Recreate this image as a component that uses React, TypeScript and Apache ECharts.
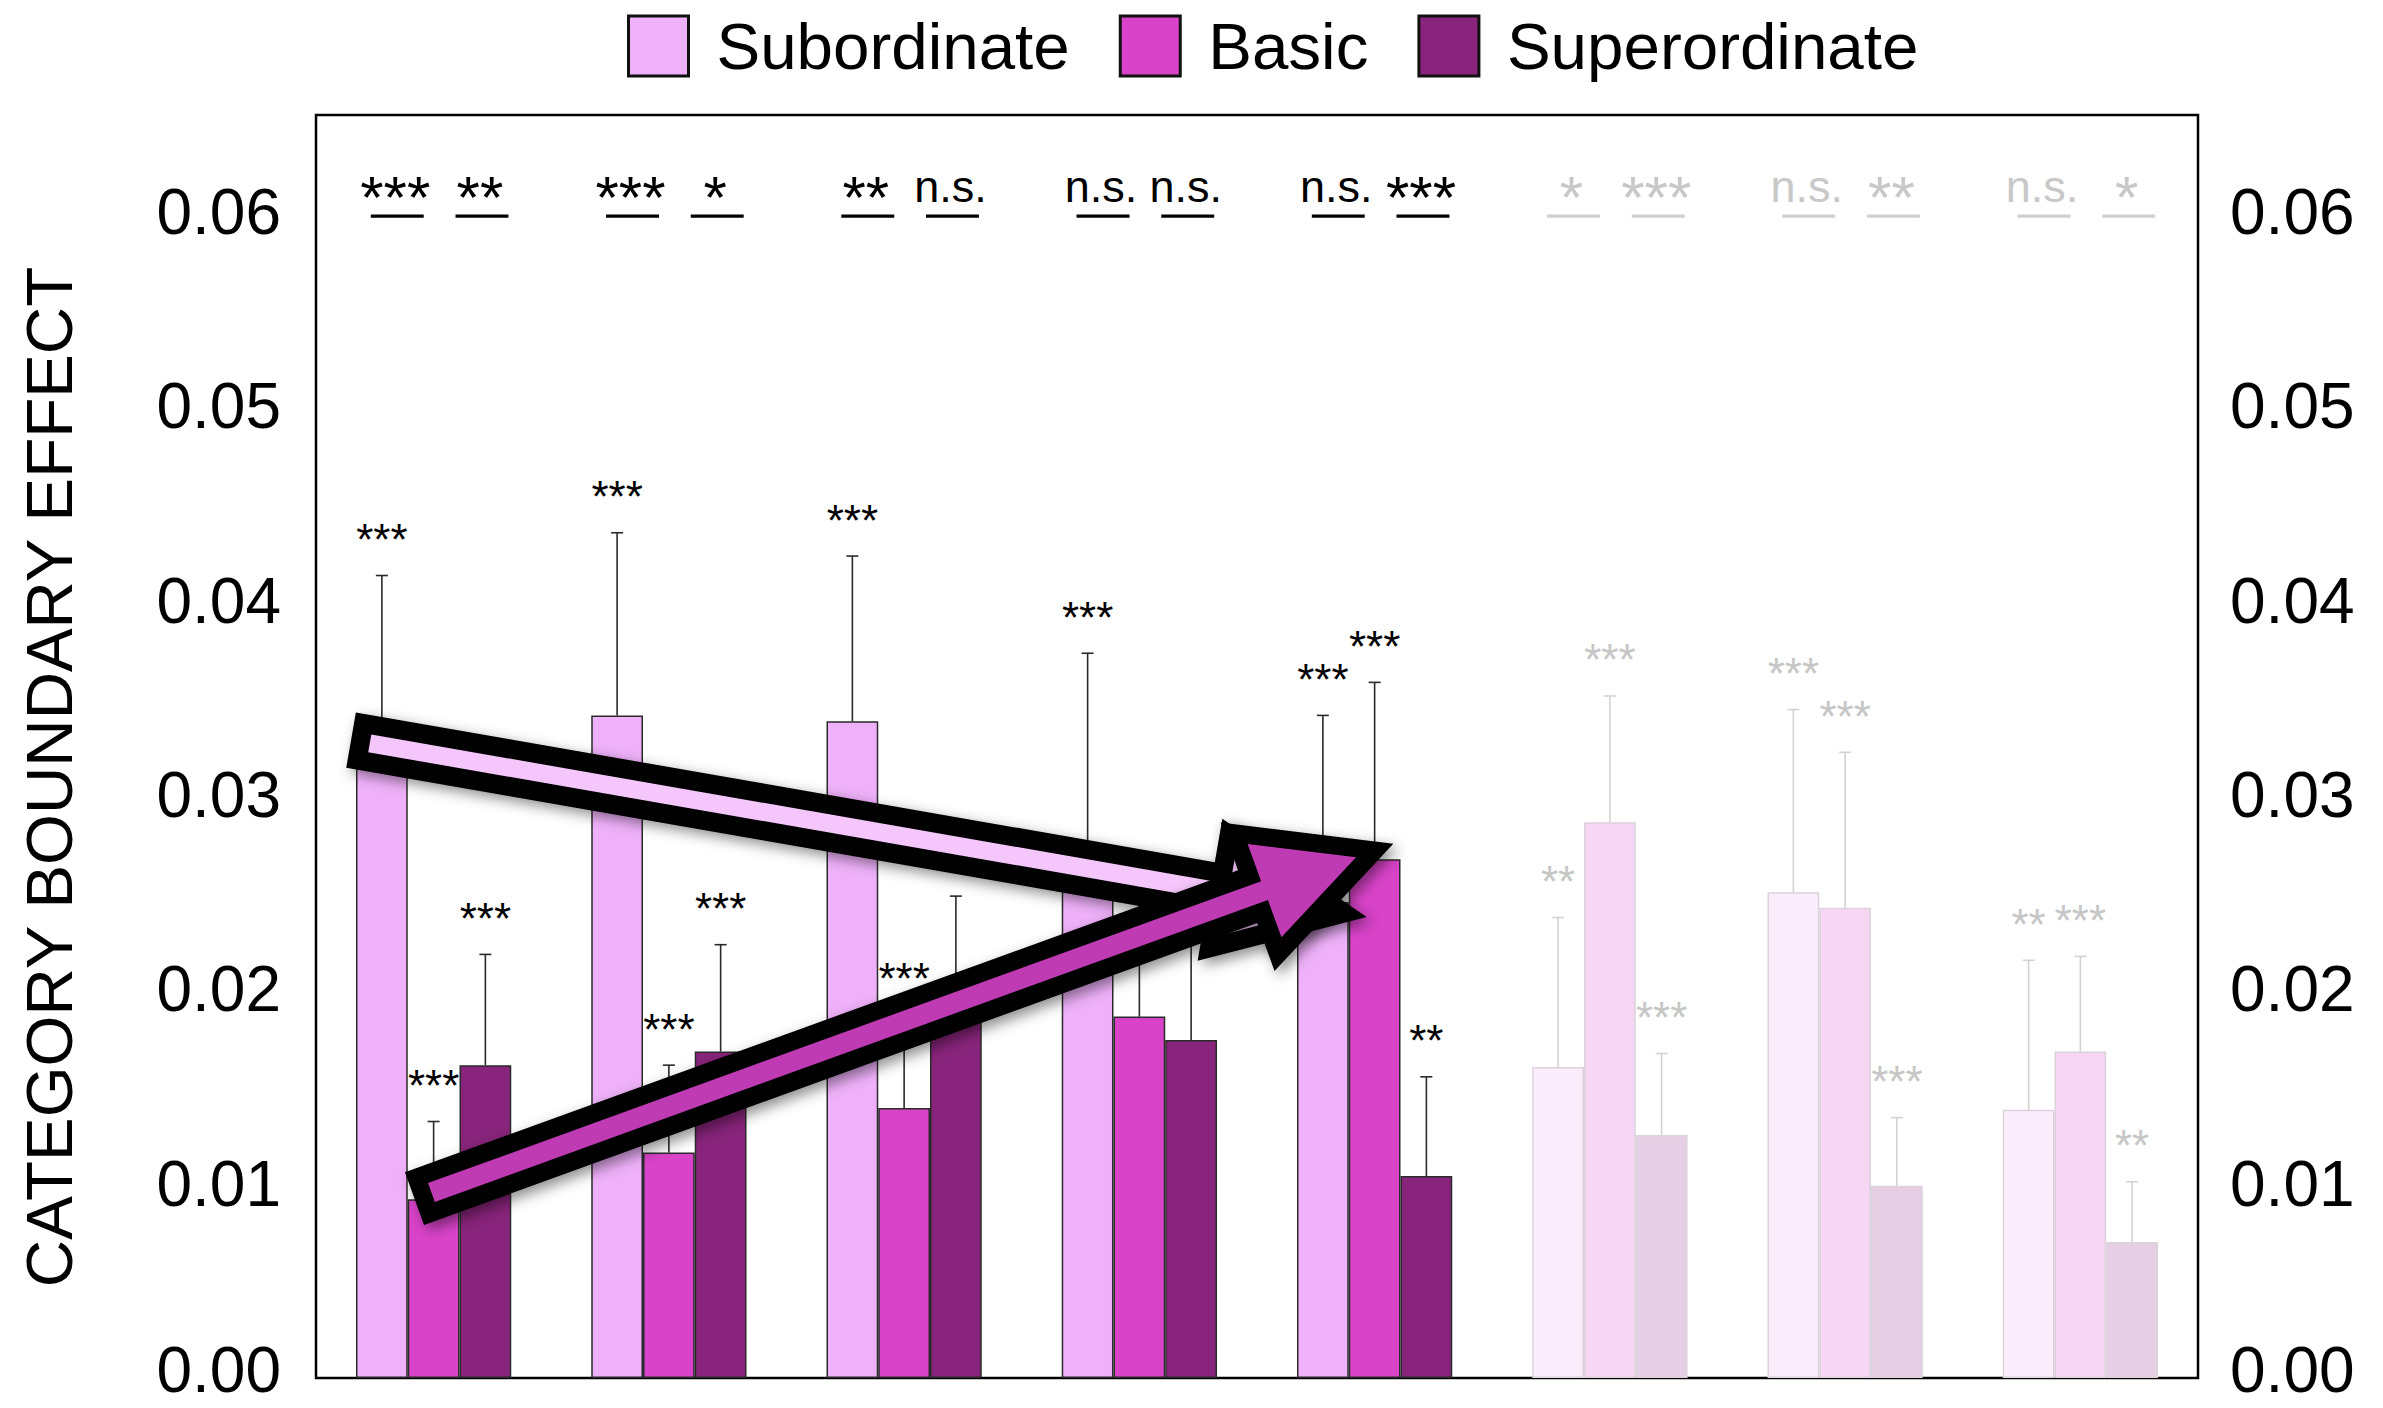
import React, { useEffect, useRef } from 'react';
import * as echarts from 'echarts';

// ---------- data ----------
const categories = ['1', '2', '3', '4', '5', '6', '7', '8'];
const seriesNames = ['Subordinate', 'Basic', 'Superordinate'];

const subordinate = [0.0320, 0.0341, 0.0338, 0.0265, 0.0245, 0.0160, 0.0250, 0.0138];
const basic = [0.0092, 0.0116, 0.0139, 0.0186, 0.0267, 0.0286, 0.0242, 0.0168];
const superordinate = [0.0161, 0.0168, 0.0188, 0.0174, 0.0104, 0.0125, 0.0099, 0.0070];

const subordinateErrTop = [0.0413, 0.0435, 0.0423, 0.0373, 0.0341, 0.0237, 0.0344, 0.0215];
const basicErrTop = [0.0132, 0.0161, 0.0187, 0.0265, 0.0358, 0.0351, 0.0322, 0.0217];
const superordinateErrTop = [0.0218, 0.0223, 0.0248, 0.0235, 0.0155, 0.0167, 0.0134, 0.0101];

const subordinateStars = ['***', '***', '***', '***', '***', '**', '***', '**'];
const basicStars = ['***', '***', '***', '', '***', '***', '***', '***'];
const superordinateStars = ['***', '***', '', '', '**', '***', '***', '**'];

// pairwise comparison labels shown above each group
const pairLeftLabels = ['***', '***', '**', 'n.s.', 'n.s.', '*', 'n.s.', 'n.s.'];
const pairRightLabels = ['**', '*', 'n.s.', 'n.s.', '***', '***', '**', '*'];
const pairLineValue = 0.0598;

const fadedGroups = [false, false, false, false, false, true, true, true];

// trend arrows: [category position (fractional), value]
const arrowSubStart = [-0.351, 0.03283];
const arrowSubEnd = [3.966, 0.02372];
const arrowBasicStart = [-0.0813, 0.00923];
const arrowBasicEnd = [4.0795, 0.02749];

const yMin = 0;
const yMax = 0.065;
const yInterval = 0.01;

// ---------- styles ----------
const FONT = '"Liberation Sans", Arial, Helvetica, sans-serif';
const colors = ['#EFB1FA', '#D943C9', '#88247B'];
const fadedColors = ['#FCEDFD', '#F7D6F3', '#E6CFE4'];
const BAR_CAT_GAP = 0.34;

export default function App() {
  const ref = useRef<HTMLDivElement>(null);

  useEffect(() => {
    if (!ref.current) return;
    const chart = echarts.init(ref.current, null, { renderer: 'svg' });

    const values = [subordinate, basic, superordinate];
    const tops = [subordinateErrTop, basicErrTop, superordinateErrTop];
    const stars = [subordinateStars, basicStars, superordinateStars];

    const barSeries = values.map((vals, k) => ({
      type: 'bar',
      name: seriesNames[k],
      barGap: '0%',
      barCategoryGap: BAR_CAT_GAP * 100 + '%',
      z: 2,
      itemStyle: { color: colors[k], borderColor: '#2a2a2a', borderWidth: 1.5 },
      data: vals.map((v, i) =>
        fadedGroups[i]
          ? { value: v, itemStyle: { color: fadedColors[k], borderColor: '#dcd2dc', borderWidth: 1.5 } }
          : v
      ),
    }));

    const errSeries = values.map((vals, k) => ({
      type: 'custom',
      name: seriesNames[k] + ' error',
      z: 3,
      silent: true,
      clip: false,
      encode: { x: 0, y: [1, 2] },
      data: vals.map((v, i) => [i, v, tops[k][i]]),
      renderItem: (params: any, api: any) => {
        const i = params.dataIndex;
        const band = api.size([1, 0])[0];
        const barW = (band * (1 - BAR_CAT_GAP)) / 3;
        const base = api.coord([api.value(0), api.value(1)]);
        const top = api.coord([api.value(0), api.value(2)]);
        const x = base[0] + (k - 1) * barW;
        const col = fadedGroups[i] ? '#d2d2d2' : '#2a2a2a';
        const children: any[] = [
          { type: 'line', shape: { x1: x, y1: base[1], x2: x, y2: top[1] }, style: { stroke: col, lineWidth: 1.6 } },
          { type: 'line', shape: { x1: x - 6, y1: top[1], x2: x + 6, y2: top[1] }, style: { stroke: col, lineWidth: 1.6 } },
        ];
        const s = stars[k][i];
        if (s) {
          children.push({
            type: 'text',
            style: {
              text: s,
              x,
              y: top[1] - 36,
              align: 'center',
              verticalAlign: 'middle',
              fill: fadedGroups[i] ? '#c6c6c6' : '#000',
              font: `44px ${FONT}`,
            },
          });
        }
        return { type: 'group', children };
      },
    }));

    const pairSeries = {
      type: 'custom',
      name: 'pairs',
      z: 4,
      silent: true,
      clip: false,
      encode: { x: 0, y: 1 },
      data: categories.map((c, i) => [i, pairLineValue]),
      renderItem: (params: any, api: any) => {
        const i = params.dataIndex;
        const band = api.size([1, 0])[0];
        const p = api.coord([api.value(0), api.value(1)]);
        const half = band * 0.1125;
        const col = fadedGroups[i] ? '#d0d0d0' : '#000';
        const txtCol = fadedGroups[i] ? '#c8c8c8' : '#000';
        const children: any[] = [];
        [pairLeftLabels[i], pairRightLabels[i]].forEach((lab, j) => {
          const cx = p[0] + (j === 0 ? -1 : 1) * band * 0.18;
          children.push({
            type: 'line',
            shape: { x1: cx - half + 6, y1: p[1], x2: cx + half + 6, y2: p[1] },
            style: { stroke: col, lineWidth: 3.2 },
          });
          const isStar = lab.indexOf('*') >= 0;
          children.push({
            type: 'text',
            style: {
              text: lab,
              x: cx + 4,
              y: isStar ? p[1] - 19 : p[1] - 30,
              align: 'center',
              verticalAlign: 'middle',
              fill: txtCol,
              font: `${isStar ? 60 : 45}px ${FONT}`,
            },
          });
        });
        return { type: 'group', children };
      },
    };

    const arrowShape = (
      S: number[],
      T: number[],
      w: number,
      hl: number,
      hw: number,
      b: number,
      fill: string
    ) => {
      const dx = T[0] - S[0];
      const dy = T[1] - S[1];
      const L = Math.hypot(dx, dy);
      const d = [dx / L, dy / L];
      const n = [-d[1], d[0]];
      const pt = (P: number[], a: number, c: number) => [P[0] + d[0] * a + n[0] * c, P[1] + d[1] * a + n[1] * c];
      const B = pt(T, -hl, 0);
      const outer = [pt(S, 0, w), pt(B, 0, w), pt(B, 0, hw), T, pt(B, 0, -hw), pt(B, 0, -w), pt(S, 0, -w)];
      const alpha = Math.atan(hw / hl);
      const Ti = pt(T, -b / Math.sin(alpha), 0);
      const Bi = pt(B, b, 0);
      const Si = pt(S, b, 0);
      const ih = Math.hypot(Ti[0] - Bi[0], Ti[1] - Bi[1]);
      const hwi = (ih * hw) / hl;
      const wi = w - b;
      const inner = [pt(Si, 0, wi), pt(Bi, 0, wi), pt(Bi, 0, hwi), Ti, pt(Bi, 0, -hwi), pt(Bi, 0, -wi), pt(Si, 0, -wi)];
      return [
        {
          type: 'polygon',
          shape: { points: outer },
          style: {
            fill: '#000',
            shadowBlur: 14,
            shadowColor: 'rgba(0,0,0,0.45)',
            shadowOffsetX: 5,
            shadowOffsetY: 5,
          },
        },
        { type: 'polygon', shape: { points: inner }, style: { fill } },
      ];
    };

    const arrowSeries = {
      type: 'custom',
      name: 'arrows',
      z: 6,
      silent: true,
      clip: false,
      encode: { x: 0, y: 1 },
      data: [[0, 0.02]],
      renderItem: (params: any, api: any) => {
        const band = api.size([1, 0])[0];
        const toPx = (p: number[]) => {
          const c = api.coord([0, p[1]]);
          return [c[0] + p[0] * band, c[1]];
        };
        return {
          type: 'group',
          children: [
            ...arrowShape(toPx(arrowSubStart), toPx(arrowSubEnd), 28, 159, 72, 19, '#F5C6FB'),
            ...arrowShape(toPx(arrowBasicStart), toPx(arrowBasicEnd), 28, 155, 79, 18, '#BF3BB4'),
          ],
        };
      },
    };

    // the bottom tick label sits at the page edge: nudge it up a few pixels
    const labelFmt = (v: number) => {
      const r = Math.round(v / yInterval);
      if (Math.abs(v / yInterval - r) >= 1e-6) return '';
      return v === 0 ? '{z|' + v.toFixed(2) + '}' : v.toFixed(2);
    };
    const labelRich = {
      z: { fontSize: 64, color: '#000', fontFamily: FONT, padding: [0, 0, 16, 0] },
    };

    const yAxisBase = {
      type: 'value',
      min: yMin,
      max: yMax,
      interval: yInterval,
      splitLine: { show: false },
      axisTick: { show: false },
      axisLine: { show: false },
    };

    const legendText = { fontSize: 65.5, fontFamily: FONT, color: '#000', padding: [0, 0, 0, 23] };

    chart.setOption({
      animation: false,
      backgroundColor: '#fff',
      textStyle: { fontFamily: FONT },
      legend: {
        data: [
          { name: seriesNames[0] },
          { name: seriesNames[1], textStyle: { ...legendText, padding: [0, 25, 0, 23] } },
          { name: seriesNames[2] },
        ],
        left: 627,
        top: 13,
        padding: 0,
        itemWidth: 60,
        itemHeight: 60,
        itemGap: 49,
        icon: 'rect',
        itemStyle: { borderColor: '#111', borderWidth: 3 },
        textStyle: legendText,
      },
      grid: {
        left: 316,
        right: 185,
        top: 115,
        bottom: 30,
        show: true,
        borderColor: '#000',
        borderWidth: 2.5,
        backgroundColor: 'transparent',
      },
      xAxis: {
        type: 'category',
        data: categories,
        axisLabel: { show: false },
        axisTick: { show: false },
        axisLine: { show: false },
      },
      yAxis: [
        {
          ...yAxisBase,
          position: 'left',
          axisLabel: { margin: 35, fontSize: 64, color: '#000', fontFamily: FONT, formatter: labelFmt, rich: labelRich },
        },
        {
          ...yAxisBase,
          position: 'right',
          axisLabel: { margin: 32, fontSize: 64, color: '#000', fontFamily: FONT, formatter: labelFmt, rich: labelRich },
        },
      ],
      graphic: [
        {
          type: 'text',
          x: 49,
          y: 777,
          rotation: Math.PI / 2,
          style: {
            text: 'CATEGORY BOUNDARY EFFECT',
            font: `65.5px ${FONT}`,
            fill: '#000',
            align: 'center',
            verticalAlign: 'middle',
          },
        },
      ],
      series: [...barSeries, ...errSeries, pairSeries, arrowSeries],
    });

    return () => chart.dispose();
  }, []);

  return (
    <div
      ref={ref}
      style={{ position: 'fixed', left: 0, top: 0, width: 2383, height: 1408, background: '#fff' }}
    />
  );
}
